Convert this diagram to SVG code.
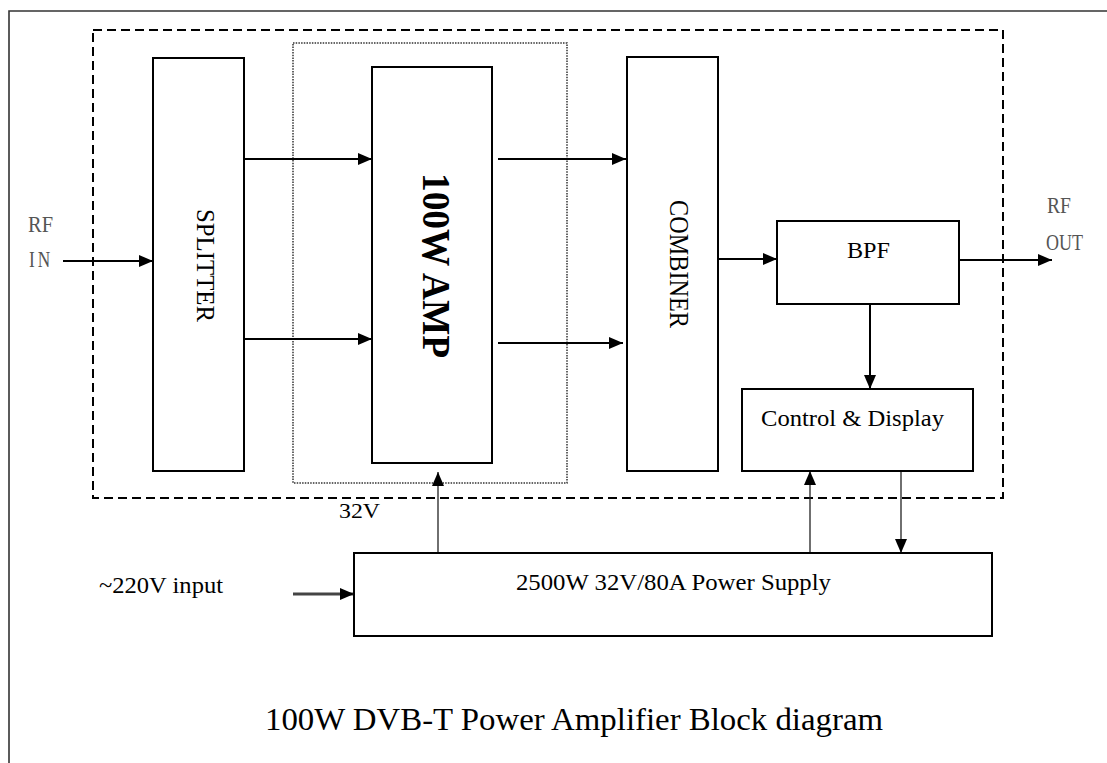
<svg xmlns="http://www.w3.org/2000/svg" width="1107" height="763" viewBox="0 0 1107 763">
<style>
  .box { fill: #fff; stroke: #000; stroke-width: 2; }
  .t { font-family: "Liberation Serif", "Times New Roman", serif; fill: #000; }
  .rf { font-family: "Liberation Serif", "Times New Roman", serif; fill: #555; font-size: 24px; }
  .wire { stroke: #000; stroke-width: 2; fill: none; }
  .thin { stroke: #222; stroke-width: 1.3; fill: none; }
</style>
<defs>
  <marker id="ah" markerUnits="userSpaceOnUse" markerWidth="14" markerHeight="12" refX="14" refY="6" orient="auto">
    <path d="M0,0 L14,6 L0,12 z" fill="#000"/>
  </marker>
</defs>
<rect width="1107" height="763" fill="#fff"/>
<!-- outer frame -->
<g id="frame">
  <path d="M9,763 L9,11 L1107,11" fill="none" stroke="#333" stroke-width="1.6"/>
</g>
<!-- dashed enclosure -->
<g id="enclosure">
  <rect x="93" y="30" width="910" height="468" fill="none" stroke="#000" stroke-width="2" stroke-dasharray="9,5"/>
</g>
<g id="amp-enclosure">
  <rect x="293" y="43" width="274" height="440" fill="none" stroke="#333" stroke-width="1.5" stroke-dasharray="1.5,1.2"/>
</g>

<g id="connectors">
  <line class="wire" x1="63" y1="261" x2="153" y2="261" marker-end="url(#ah)"/>
  <line class="wire" x1="244" y1="159" x2="372" y2="159" marker-end="url(#ah)"/>
  <line class="wire" x1="244" y1="339" x2="372" y2="339" marker-end="url(#ah)"/>
  <line class="wire" x1="498" y1="159" x2="626" y2="159" marker-end="url(#ah)"/>
  <line class="wire" x1="498" y1="343" x2="623" y2="343" marker-end="url(#ah)"/>
  <line class="wire" x1="718" y1="259" x2="777" y2="259" marker-end="url(#ah)"/>
  <line class="wire" x1="959" y1="260" x2="1052" y2="260" marker-end="url(#ah)"/>
  <line class="wire" x1="870" y1="304" x2="870" y2="389" marker-end="url(#ah)"/>
  <line class="thin" x1="438" y1="553" x2="438" y2="472" marker-end="url(#ah)"/>
  <line class="thin" x1="810" y1="553" x2="810" y2="471" marker-end="url(#ah)"/>
  <line class="thin" x1="901" y1="471" x2="901" y2="553" marker-end="url(#ah)"/>
  <line x1="293" y1="594" x2="354" y2="594" stroke="#444" stroke-width="3" marker-end="url(#ah)"/>
</g>

<g id="splitter">
  <rect class="box" x="153" y="58" width="91" height="413"/>
  <text class="t" font-size="26" transform="translate(197,209) rotate(90)" textLength="113" lengthAdjust="spacingAndGlyphs">SPLITTER</text>
</g>
<g id="amp">
  <rect class="box" x="372" y="67" width="120" height="396"/>
  <text class="t" font-size="39" font-weight="bold" transform="translate(423,173) rotate(90)" textLength="185" lengthAdjust="spacingAndGlyphs">100W AMP</text>
</g>
<g id="combiner">
  <rect class="box" x="627" y="57" width="91" height="414"/>
  <text class="t" font-size="27" transform="translate(670,200) rotate(90)" textLength="128" lengthAdjust="spacingAndGlyphs">COMBINER</text>
</g>
<g id="bpf">
  <rect class="box" x="777" y="221" width="182" height="83"/>
  <text class="t" font-size="24" x="847" y="258" textLength="43" lengthAdjust="spacingAndGlyphs">BPF</text>
</g>
<g id="control">
  <rect class="box" x="742" y="389" width="231" height="82"/>
  <text class="t" font-size="24" x="761" y="426" textLength="183" lengthAdjust="spacingAndGlyphs">Control &amp; Display</text>
</g>
<g id="power-supply">
  <rect class="box" x="354" y="553" width="638" height="83"/>
  <text class="t" font-size="24" x="516" y="590" textLength="315" lengthAdjust="spacingAndGlyphs">2500W 32V/80A Power Supply</text>
</g>

<g id="labels">
  <text class="rf" x="28" y="232" textLength="25" lengthAdjust="spacingAndGlyphs">RF</text>
  <text class="rf" x="29" y="267" textLength="24" lengthAdjust="spacingAndGlyphs" letter-spacing="4">IN</text>
  <text class="rf" x="1047" y="213" textLength="24" lengthAdjust="spacingAndGlyphs">RF</text>
  <text class="rf" x="1046" y="250" textLength="37" lengthAdjust="spacingAndGlyphs">OUT</text>
  <text class="t" font-size="21" x="339" y="518" textLength="41" lengthAdjust="spacingAndGlyphs">32V</text>
  <text class="t" font-size="24" x="99" y="593" textLength="124" lengthAdjust="spacingAndGlyphs">~220V input</text>
  <text class="t" font-size="32" x="265" y="730" textLength="618" lengthAdjust="spacingAndGlyphs">100W DVB-T Power Amplifier Block diagram</text>
</g>
</svg>
